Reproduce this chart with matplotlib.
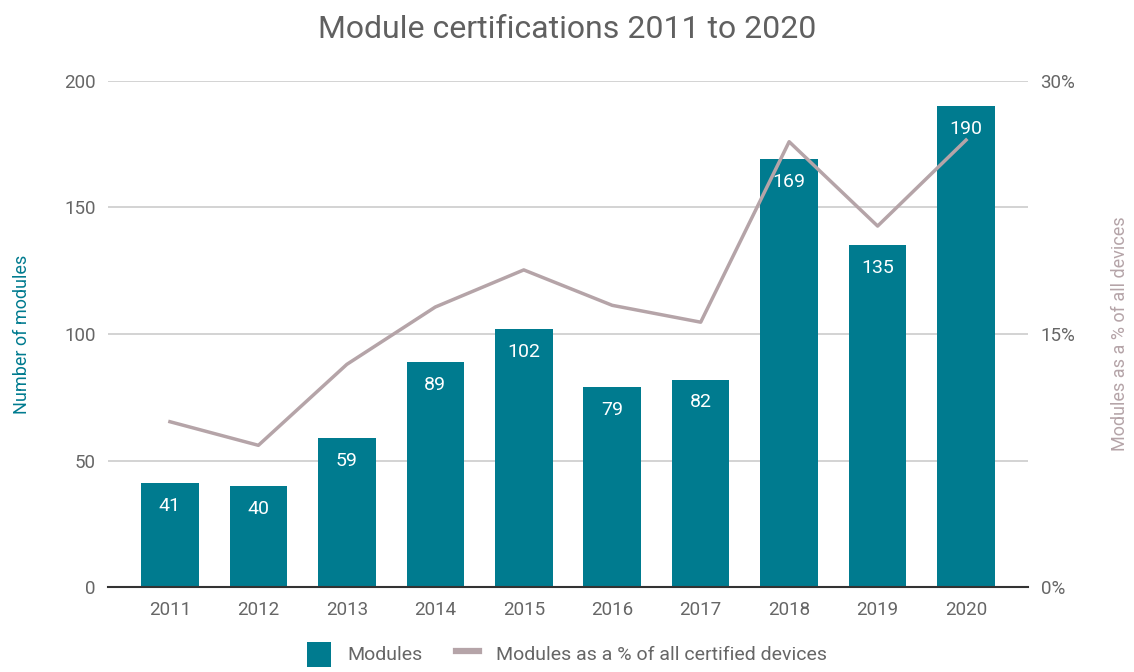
import matplotlib
matplotlib.use("Agg")
import matplotlib.pyplot as plt
from matplotlib.lines import Line2D
from matplotlib.patches import Patch

plt.rcParams['font.family'] = ['Roboto', 'DejaVu Sans']

years = ['2011', '2012', '2013', '2014', '2015', '2016', '2017', '2018', '2019', '2020']
modules = [41, 40, 59, 89, 102, 79, 82, 169, 135, 190]
pct_of_devices = [9.8, 8.4, 13.2, 16.6, 18.8, 16.7, 15.7, 26.4, 21.4, 26.5]

bar_color = '#007B8F'
line_color = '#B5A4A8'
tick_color = '#666666'

fig = plt.figure(figsize=(11.34, 6.72), dpi=100)
ax = fig.add_axes([108/1134, 1 - 587/672, 920/1134, 506/672])
ax2 = ax.twinx()

x = list(range(len(years)))
bars = ax.bar(x, modules, width=0.65, color=bar_color, zorder=2)
ax.set_ylim(0, 200)
ax.set_yticks([0, 50, 100, 150, 200])
ax.set_xlim(-0.7, 9.7)
ax.set_xticks(x)
ax.set_xticklabels(years)
ax.grid(axis='y', color='#cccccc', linewidth=1.2, zorder=0)
ax.set_axisbelow(True)

for xi, v in zip(x, modules):
    ax.annotate(str(v), (xi, v), xytext=(0, -16.5), textcoords='offset points',
                ha='center', va='center', color='white', fontsize=14, zorder=5)

ax2.plot(x, pct_of_devices, color=line_color, linewidth=2.5, zorder=3)
ax2.set_ylim(0, 30)
ax2.set_yticks([0, 15, 30])
ax2.set_yticklabels(['0%', '15%', '30%'])

ax.set_zorder(1)
ax2.set_zorder(2)
ax2.patch.set_visible(False)

for a in (ax, ax2):
    for s in a.spines.values():
        s.set_visible(False)
    a.tick_params(length=0, labelsize=13.5, colors=tick_color)
ax.spines['bottom'].set_visible(True)
ax.spines['bottom'].set_color('#333333')
ax.spines['bottom'].set_linewidth(1.5)
ax.tick_params(axis='x', pad=10)
ax.tick_params(axis='y', pad=9)
ax2.tick_params(axis='y', pad=9)

ax.set_ylabel('Number of modules', color=bar_color, fontsize=13, labelpad=24)
ax2.set_ylabel('Modules as a % of all devices', color=line_color, fontsize=13, labelpad=26)

fig.suptitle('Module certifications 2011 to 2020', y=0.978, fontsize=23, color='#606060')

handles = [Patch(facecolor=bar_color, edgecolor='none'),
           Line2D([0], [0], color=line_color, linewidth=4.5)]
fig.legend(handles, ['Modules', 'Modules as a % of all certified devices'],
           loc='lower center', bbox_to_anchor=(0.5, -0.018), ncol=2, frameon=False,
           fontsize=14, labelcolor=tick_color, handlelength=1.2, handleheight=1.6,
           columnspacing=1.7, handletextpad=0.85)

fig.savefig('out.png', dpi=100)
